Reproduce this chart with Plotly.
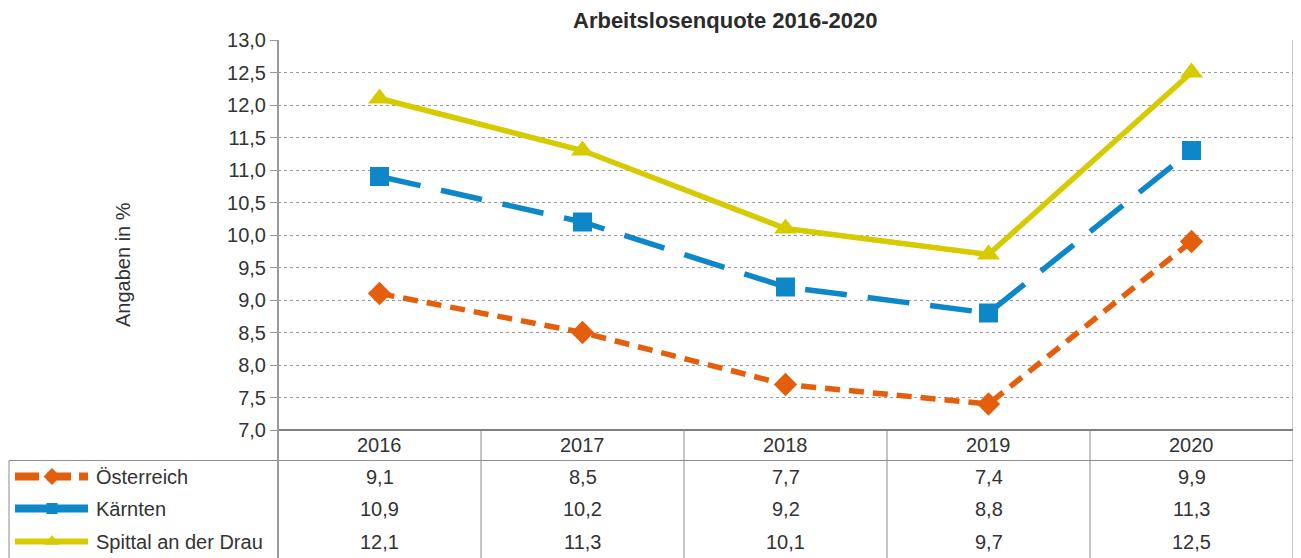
import plotly.graph_objects as go

years = ["2016", "2017", "2018", "2019", "2020"]
oesterreich = [9.1, 8.5, 7.7, 7.4, 9.9]
kaernten = [10.9, 10.2, 9.2, 8.8, 11.3]
spittal = [12.1, 11.3, 10.1, 9.7, 12.5]
series_names = ["Österreich", "Kärnten", "Spittal an der Drau"]
title = "Arbeitslosenquote 2016-2020"
y_title = "Angaben in %"

# page has an 8px body margin; lay out in page pixel coordinates
OFF = 8
PW, PH = 1301, 558
W, H = PW - OFF, PH - OFF
L, R, T, B = 278, 1293, 40, 430

colors = ["#E35F0C", "#0E87C9", "#D6CB00"]
symbols = ["diamond", "square", "triangle-up"]
dashes = ["15px,9px", "42px,21px", "solid"]
msizes = [18, 19, 20]
data = [oesterreich, kaernten, spittal]
xs = list(range(len(years)))

fig = go.Figure()
row_y = [476.5, 508.5, 541.5]
leg_dash = ["24px,8px", "solid", "solid"]
leg_w = [8, 8, 6]
leg_ms = [13, 11, 13]
for name, c, s, d, ry, w, ms in zip(series_names, colors, symbols, leg_dash, row_y, leg_w, leg_ms):
    fig.add_trace(go.Scatter(
        x=[15, 88], y=[ry, ry], mode="lines",
        line=dict(color=c, width=w, dash=d),
        xaxis="x2", yaxis="y2", showlegend=False, hoverinfo="skip"))
    fig.add_trace(go.Scatter(
        x=[52], y=[ry], mode="markers",
        marker=dict(symbol=s, size=ms, color=c),
        xaxis="x2", yaxis="y2", showlegend=False, hoverinfo="skip"))

for name, vals, c, s, d, ms in zip(series_names, data, colors, symbols, dashes, msizes):
    fig.add_trace(go.Scatter(
        x=xs, y=vals, mode="lines+markers", name=name,
        line=dict(color=c, width=5.5, dash=d),
        marker=dict(symbol=s, size=ms, color=c),
        xaxis="x", yaxis="y", showlegend=False, cliponaxis=False))

font_col = "#333333"
fs = 20
ann = []
ann.append(dict(text="<b>" + title + "</b>", x=725, y=20, xref="x2", yref="y2",
                showarrow=False, font=dict(size=22, color="#2b2b2b")))
ann.append(dict(text=y_title, x=123, y=265, xref="x2", yref="y2", textangle=-90,
                showarrow=False, font=dict(size=fs, color=font_col)))
for i, yr in enumerate(years):
    ann.append(dict(text=yr, x=i, y=445, xref="x", yref="y2", showarrow=False,
                    font=dict(size=fs, color=font_col)))
    for vals, ry in zip(data, row_y):
        ann.append(dict(text=f"{vals[i]:.1f}".replace(".", ","), x=i, y=ry,
                        xref="x", yref="y2", showarrow=False,
                        font=dict(size=fs, color=font_col)))
for name, ry in zip(series_names, row_y):
    ann.append(dict(text=name, x=94, y=ry, xref="x2", yref="y2", xanchor="left",
                    showarrow=False, font=dict(size=fs, color=font_col)))

lc = "#8c8c8c"
shapes = []
def ln(x0, y0, x1, y1, w=1, col=lc):
    shapes.append(dict(type="line", x0=x0, y0=y0, x1=x1, y1=y1, xref="x2", yref="y2",
                       line=dict(color=col, width=w), layer="below"))
ln(L, B, R, B, 2, "#7f7f7f")
ln(9, 460.5, R, 460.5, 1)
ln(9, 460.5, 9, PH, 1)
ln(L, T, L, PH, 2, "#9a9a9a")
ln(R, T, R, PH, 1)
step = (R - L) / len(years)
for i in range(1, len(years)):
    ln(L + step * i, B, L + step * i, PH, 1)

fig.update_layout(
    width=W, height=H, margin=dict(l=0, r=0, t=0, b=0),
    paper_bgcolor="white", plot_bgcolor="rgba(0,0,0,0)",
    separators=",.",
    font=dict(family="Liberation Sans, Arial, sans-serif", color=font_col),
    xaxis=dict(domain=[(L - OFF) / W, (R - OFF) / W], range=[-0.5, len(years) - 0.5],
               anchor="y", showticklabels=False, showgrid=False, zeroline=False,
               ticks="", automargin=False),
    yaxis=dict(domain=[(PH - B) / H, (PH - T) / H], range=[7, 13], dtick=0.5, anchor="x",
               tickformat=".1f", showgrid=True, gridcolor="#9a9a9a", griddash="dot",
               gridwidth=1, zeroline=False, ticks="outside", ticklen=7,
               tickcolor="#9a9a9a", tickfont=dict(size=fs, color=font_col),
               showline=False, automargin=False),
    xaxis2=dict(domain=[0, 1], range=[OFF, PW], anchor="y2", visible=False, automargin=False),
    yaxis2=dict(domain=[0, 1], range=[PH, OFF], anchor="x2", visible=False, automargin=False),
    annotations=ann, shapes=shapes,
)
fig.write_html("out.html")
